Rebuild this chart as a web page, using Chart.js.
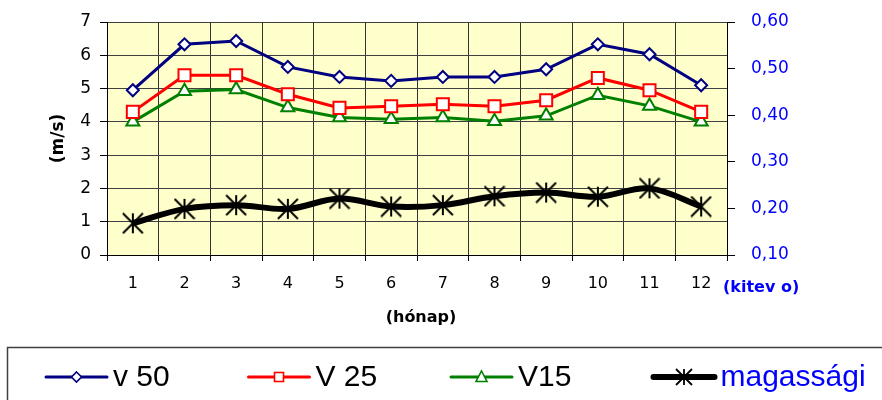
<!DOCTYPE html>
<html>
<head>
<meta charset="utf-8">
<script src="https://cdn.jsdelivr.net/npm/chart.js@4/dist/chart.umd.min.js"></script>
<style>
  html, body { margin: 0; padding: 0; background: #fff; }
  #wrap { width: 882px; height: 400px; position: relative; }
</style>
</head>
<body>
<div id="wrap"><canvas id="c" width="882" height="400"></canvas></div>
<script>
// Months of the year (x categories)
const months = ['1', '2', '3', '4', '5', '6', '7', '8', '9', '10', '11', '12'];

// Monthly mean wind speeds (m/s) at 50 m, 25 m and 15 m
const v50 = [4.95, 6.33, 6.43, 5.65, 5.35, 5.23, 5.35, 5.35, 5.58, 6.33, 6.03, 5.10];
const v25 = [4.30, 5.40, 5.40, 4.83, 4.42, 4.47, 4.53, 4.47, 4.65, 5.32, 4.95, 4.30];
const v15 = [4.00, 4.92, 4.97, 4.43, 4.13, 4.08, 4.13, 4.02, 4.18, 4.80, 4.48, 4.00];

// Height exponent (right axis)
const magassagi = [0.168, 0.199, 0.207, 0.199, 0.221, 0.204, 0.207, 0.226, 0.234, 0.225, 0.243, 0.204];

// Axis ranges
const speedAxis = { min: 0, max: 7, step: 1 };
const exponentAxis = { min: 0.1, max: 0.6, step: 0.1 };

// Asterisk marker (vertical bar plus an X), as used by the exponent series
function makeStar(size, lw) {
  const c = document.createElement('canvas');
  c.width = c.height = size;
  const g = c.getContext('2d');
  g.strokeStyle = '#000';
  g.lineWidth = lw;
  g.lineCap = 'butt';
  const h = size / 2, r = h - 1;
  g.beginPath();
  g.moveTo(h, h - r); g.lineTo(h, h + r);
  g.moveTo(h - r, h - r); g.lineTo(h + r, h + r);
  g.moveTo(h + r, h - r); g.lineTo(h - r, h + r);
  g.stroke();
  return c;
}
const starBig = makeStar(22, 2);
const starSmall = makeStar(18, 1.8);

const AXIS_FONT = 'DejaVu Sans';

// Page + plot-area background
const backgroundPlugin = {
  id: 'bg',
  beforeDraw(chart) {
    const { ctx, chartArea: a } = chart;
    ctx.save();
    ctx.fillStyle = '#fff';
    ctx.fillRect(0, 0, chart.width, chart.height);
    ctx.fillStyle = '#FFFFCC';
    ctx.fillRect(a.left, a.top, a.right - a.left, a.bottom - a.top);
    ctx.restore();
  }
};

// Axis titles
const titlesPlugin = {
  id: 'titles',
  afterDraw(chart) {
    const { ctx, chartArea: a } = chart;
    ctx.save();
    ctx.textBaseline = 'middle';
    ctx.textAlign = 'center';
    ctx.fillStyle = '#000';
    ctx.font = 'bold 17px "' + AXIS_FONT + '"';
    ctx.save();
    ctx.translate(59, (a.top + a.bottom) / 2);
    ctx.rotate(-Math.PI / 2);
    ctx.fillText('(m/s)', 0, 0);
    ctx.restore();
    ctx.font = 'bold 16px "' + AXIS_FONT + '"';
    ctx.fillText('(hónap)', (a.left + a.right) / 2 + 4, a.bottom + 63);
    ctx.textAlign = 'left';
    ctx.fillStyle = '#0000FF';
    ctx.fillText('(kitev o)', a.right - 4, a.bottom + 33);
    ctx.restore();
  }
};

// Boxed legend along the bottom
const legendPlugin = {
  id: 'boxLegend',
  afterDraw(chart) {
    const { ctx } = chart;
    ctx.save();
    ctx.strokeStyle = '#404040';
    ctx.lineWidth = 1.5;
    ctx.strokeRect(7.5, 347.5, 900, 100);
    const y = 377;
    chart.data.datasets.forEach((ds, i) => {
      const x0 = 46 + i * 202.5;
      const x1 = x0 + 61;
      const xm = (x0 + x1) / 2;
      ctx.strokeStyle = ds.borderColor;
      ctx.lineWidth = ds.borderWidth;
      ctx.lineCap = 'round';
      ctx.beginPath();
      ctx.moveTo(x0, y); ctx.lineTo(x1, y);
      ctx.stroke();
      ctx.lineCap = 'butt';
      ctx.lineWidth = 1.6;
      ctx.fillStyle = '#fff';
      ctx.strokeStyle = ds.pointBorderColor;
      if (ds.pointStyle === 'rectRot') {
        const r = 5;
        ctx.beginPath();
        ctx.moveTo(xm, y - r); ctx.lineTo(xm + r, y); ctx.lineTo(xm, y + r); ctx.lineTo(xm - r, y);
        ctx.closePath(); ctx.fill(); ctx.stroke();
      } else if (ds.pointStyle === 'rect') {
        const s = 4.5;
        ctx.fillRect(xm - s, y - s, 2 * s, 2 * s);
        ctx.strokeRect(xm - s, y - s, 2 * s, 2 * s);
      } else if (ds.pointStyle === 'triangle') {
        const w = 5.5;
        ctx.beginPath();
        ctx.moveTo(xm, y - 6); ctx.lineTo(xm + w, y + 4.5); ctx.lineTo(xm - w, y + 4.5);
        ctx.closePath(); ctx.fill(); ctx.stroke();
      } else {
        ctx.drawImage(starSmall, xm - starSmall.width / 2, y - starSmall.height / 2);
      }
      ctx.fillStyle = ds.legendColor;
      ctx.font = '30px "Liberation Sans"';
      ctx.textAlign = 'left';
      ctx.textBaseline = 'middle';
      ctx.fillText(ds.label, x1 + 6, y + 1);
    });
    ctx.restore();
  }
};

new Chart(document.getElementById('c'), {
  type: 'line',
  data: {
    labels: months,
    datasets: [
      {
        label: 'v 50', data: v50, yAxisID: 'y',
        borderColor: '#000080', borderWidth: 3, tension: 0,
        pointStyle: 'rectRot', pointRadius: 6, pointBorderWidth: 2,
        pointBackgroundColor: '#fff', pointBorderColor: '#000080',
        legendColor: '#000'
      },
      {
        label: 'V 25', data: v25, yAxisID: 'y',
        borderColor: '#FF0000', borderWidth: 3, tension: 0,
        pointStyle: 'rect', pointRadius: 8.5, pointBorderWidth: 2,
        pointBackgroundColor: '#fff', pointBorderColor: '#FF0000',
        legendColor: '#000'
      },
      {
        label: 'V15', data: v15, yAxisID: 'y',
        borderColor: '#008000', borderWidth: 3, tension: 0,
        pointStyle: 'triangle', pointRadius: 7.5, pointBorderWidth: 2,
        pointBackgroundColor: '#fff', pointBorderColor: '#008000',
        legendColor: '#000'
      },
      {
        label: 'magassági', data: magassagi, yAxisID: 'y1',
        borderColor: '#000', borderWidth: 6, tension: 0.35,
        pointStyle: starBig, pointRadius: 11,
        pointBorderColor: '#000',
        legendColor: '#0000FF'
      }
    ]
  },
  options: {
    responsive: false,
    animation: false,
    events: [],
    layout: { padding: { top: 22, left: 0, right: 0, bottom: 0 } },
    plugins: { legend: { display: false }, tooltip: { enabled: false } },
    scales: {
      x: {
        offset: true,
        grid: { offset: true, color: '#333', lineWidth: 1, tickLength: 6, tickColor: '#000' },
        border: { color: '#000', width: 1 },
        ticks: { color: '#000', font: { family: AXIS_FONT, size: 16 }, padding: 13, maxRotation: 0, autoSkip: false },
        afterFit(s) { s.height = 145; }
      },
      y: {
        position: 'left',
        min: speedAxis.min, max: speedAxis.max,
        grid: { color: '#404040', lineWidth: 1, tickLength: 7, tickColor: '#000' },
        border: { color: '#000', width: 1 },
        ticks: { stepSize: speedAxis.step, color: '#000', font: { family: AXIS_FONT, size: 17 }, padding: 9 },
        afterFit(s) { s.width = 107; s.paddingTop = 0; s.paddingBottom = 0; }
      },
      y1: {
        position: 'right',
        min: exponentAxis.min, max: exponentAxis.max,
        grid: { drawOnChartArea: false, tickLength: 8, tickColor: '#000' },
        border: { color: '#000', width: 1 },
        ticks: {
          stepSize: exponentAxis.step, color: '#0000FF',
          font: { family: AXIS_FONT, size: 17 }, padding: 16,
          callback: v => v.toFixed(2).replace('.', ',')
        },
        afterFit(s) { s.width = 155; s.paddingTop = 0; s.paddingBottom = 0; }
      }
    }
  },
  plugins: [backgroundPlugin, titlesPlugin, legendPlugin]
});
</script>
</body>
</html>
